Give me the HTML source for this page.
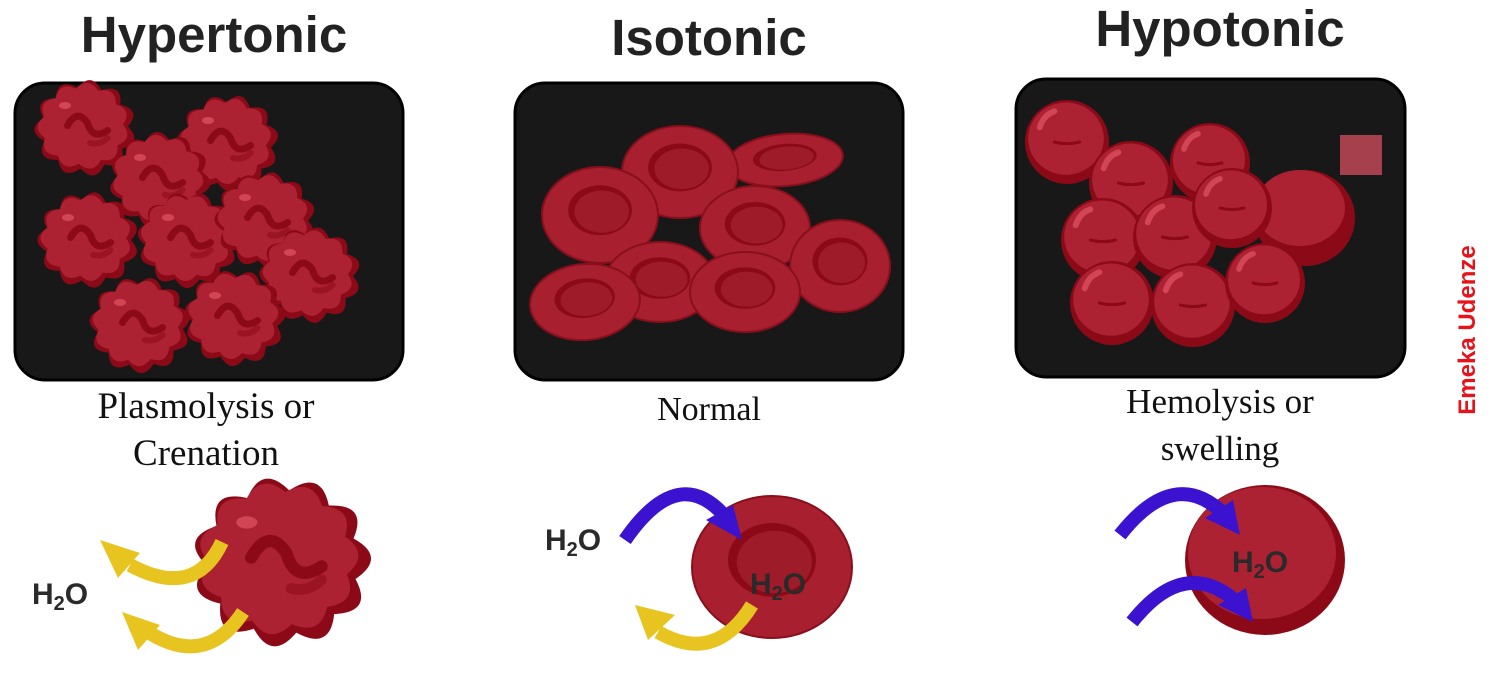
<!DOCTYPE html>
<html><head><meta charset="utf-8"><style>
html,body{margin:0;padding:0;background:#fff;width:1500px;height:675px;overflow:hidden}
svg{display:block}
.t{font-family:"Liberation Sans",sans-serif;font-weight:bold;fill:#222;text-anchor:middle}
.c{font-family:"Liberation Serif",serif;fill:#111;text-anchor:middle}
.h{font-family:"Liberation Sans",sans-serif;fill:#2a2a2a;font-size:30px;font-weight:bold}
</style></head><body>
<svg id="s" width="1500" height="675" viewBox="0 0 1500 675" xmlns="http://www.w3.org/2000/svg">
<text class="t" x="214" y="52" font-size="51">Hypertonic</text>
<text class="t" x="709" y="55" font-size="51">Isotonic</text>
<text class="t" x="1220" y="46" font-size="51">Hypotonic</text>
<rect x="15" y="83" width="388" height="297" rx="30" fill="#181818" stroke="#000" stroke-width="3"/>
<rect x="515" y="83" width="388" height="297" rx="30" fill="#181818" stroke="#000" stroke-width="3"/>
<rect x="1016" y="79" width="389" height="298" rx="30" fill="#181818" stroke="#000" stroke-width="3"/>
<g id="cells"></g>
<text class="c" x="206" y="418" font-size="37">Plasmolysis or</text>
<text class="c" x="206" y="465" font-size="37">Crenation</text>
<text class="c" x="709" y="420" font-size="34">Normal</text>
<text class="c" x="1220" y="413" font-size="35">Hemolysis or</text>
<text class="c" x="1220" y="460" font-size="35">swelling</text>
<text x="1475" y="330" font-family="Liberation Sans,sans-serif" font-weight="bold" font-size="24" fill="#e8121b" text-anchor="middle" transform="rotate(-90 1475 330)">Emeka Udenze</text>
<g id="arrows"></g>
<text class="h" x="32" y="604">H<tspan font-size="20" dy="6">2</tspan><tspan dy="-6">O</tspan></text>
<text class="h" x="545" y="550">H<tspan font-size="20" dy="6">2</tspan><tspan dy="-6">O</tspan></text>
<text class="h" x="750" y="594">H<tspan font-size="20" dy="6">2</tspan><tspan dy="-6">O</tspan></text>
<text class="h" x="1232" y="572">H<tspan font-size="20" dy="6">2</tspan><tspan dy="-6">O</tspan></text>
</svg>
<script>
var NS="http://www.w3.org/2000/svg",g=document.getElementById('cells'),ag=document.getElementById('arrows');
function el(p,t,a){var e=document.createElementNS(NS,t);for(var k in a)e.setAttribute(k,a[k]);p.appendChild(e);return e;}
function blob(cx,cy,r,n,out,inn,ph){
 var d="";
 for(var i=0;i<=n;i++){var a=i/n*2*Math.PI+ph,a2=(i+0.5)/n*2*Math.PI+ph;
  var x=cx+Math.cos(a)*r*inn,y=cy+Math.sin(a)*r*inn*0.95;
  if(i==0)d+="M"+x+" "+y;else d+=" Q"+(cx+Math.cos(a-Math.PI/n)*r*out)+" "+(cy+Math.sin(a-Math.PI/n)*r*out*0.95)+" "+x+" "+y;}
 return d+"Z";
}
function spiky(cx,cy,r){
 var ph=cx*0.013;
 el(g,'path',{d:blob(cx,cy,r,11,1.2,0.86,ph),fill:"#8c0a17"});
 el(g,'path',{d:blob(cx-r*0.04,cy-r*0.04,r,11,1.05,0.8,ph),fill:"#ad2232"});
 el(g,'path',{d:"M"+(cx-r*0.35)+" "+(cy-r*0.05)+" q"+r*0.2+" "+(-r*0.35)+" "+r*0.4+" -"+r*0.05+" q"+r*0.1+" "+r*0.35+" "+r*0.4+" "+r*0.15,stroke:"#8c0a17","stroke-width":r*0.14,fill:"none","stroke-linecap":"round"});
 el(g,'path',{d:"M"+(cx+r*0.1)+" "+(cy+r*0.3)+" q"+r*0.2+" "+r*0.05+" "+r*0.35+" -"+r*0.1,stroke:"#9a1424","stroke-width":r*0.12,fill:"none","stroke-linecap":"round"});
 el(g,'ellipse',{cx:cx-r*0.4,cy:cy-r*0.45,rx:r*0.12,ry:r*0.07,fill:"#d24555"});
}
function disc(cx,cy,rx,ry,rot){
 var q=el(g,'g',{transform:"rotate("+(rot||0)+" "+cx+" "+cy+")"});
 el(q,'ellipse',{cx:cx,cy:cy,rx:rx,ry:ry,fill:"#a81f2f",stroke:"#8a0f1c","stroke-width":2});
 el(q,'ellipse',{cx:cx,cy:cy-ry*0.1,rx:rx*0.55,ry:ry*0.52,fill:"#8c0a17"});
 el(q,'ellipse',{cx:cx+rx*0.03,cy:cy-ry*0.07,rx:rx*0.47,ry:ry*0.44,fill:"#9e1b2a"});
}
function sphere(cx,cy,r){
 el(g,'circle',{cx:cx,cy:cy,r:r,fill:"#8c0a17"});
 el(g,'ellipse',{cx:cx-1,cy:cy-r*0.08,rx:r*0.9,ry:r*0.86,fill:"#ad2232"});
 el(g,'path',{d:"M"+(cx-r*0.3)+" "+cy+" q"+r*0.3+" "+r*0.08+" "+r*0.6+" 0",stroke:"#8c0a17","stroke-width":3,fill:"none","stroke-linecap":"round"});
 el(g,'path',{d:"M"+(cx-r*0.65)+" "+(cy-r*0.35)+" q"+r*0.1+" "+(-r*0.3)+" "+r*0.35+" "+(-r*0.38),stroke:"#d24555","stroke-width":r*0.14,fill:"none","stroke-linecap":"round"});
}
[[85,128,50],[228,143,50],[160,180,50],[88,240,50],[188,240,50],[265,220,50],[310,275,50],[140,325,50],[235,318,50]].forEach(function(c){spiky(c[0],c[1],c[2]);});
spiky(282,562,88);
[[785,160,58,26,-5],[680,172,58,46,0],[600,215,58,48,0],[755,228,55,42,0],[840,266,50,46,0],[660,282,55,40,0],[745,292,55,40,0],[585,302,55,38,-5]].forEach(function(c){disc(c[0],c[1],c[2],c[3],c[4]);});
disc(772,567,80,71,0);
el(g,'ellipse',{cx:1305,cy:218,rx:50,ry:48,fill:"#8c0a17"});
el(g,'ellipse',{cx:1300,cy:208,rx:45,ry:38,fill:"#ad2232"});
el(g,'rect',{x:1340,y:135,width:42,height:40,fill:"#b64552",opacity:0.9});
[[1067,142,42],[1210,163,40],[1131,183,42],[1103,240,42],[1175,237,42],[1112,303,42],[1193,305,42],[1265,283,40]].forEach(function(c){sphere(c[0],c[1],c[2]);});
sphere(1232,208,40);
el(g,'ellipse',{cx:1265,cy:560,rx:80,ry:75,fill:"#8c0a17"});
el(g,'ellipse',{cx:1262,cy:553,rx:74,ry:66,fill:"#ad2232"});
function arrow(path,tip,col){
 el(ag,'path',{d:path,stroke:col,"stroke-width":14,fill:"none"});
 el(ag,'polygon',{points:tip,fill:col});
}
var Y="#e8c420",B="#3b12d0";
arrow("M222 542 Q195 600 130 565","100,540 140,553 118,578",Y);
arrow("M243 612 Q205 670 145 630","122,612 160,625 138,650",Y);
arrow("M625 540 Q680 460 728 520","742,540 706,520 733,505",B);
arrow("M752 605 Q715 665 658 632","635,605 675,615 648,640",Y);
arrow("M1120 535 Q1175 465 1225 515","1240,535 1205,518 1233,500",B);
arrow("M1132 622 Q1185 555 1238 603","1253,622 1218,605 1246,588",B);
</script>
</body></html>
